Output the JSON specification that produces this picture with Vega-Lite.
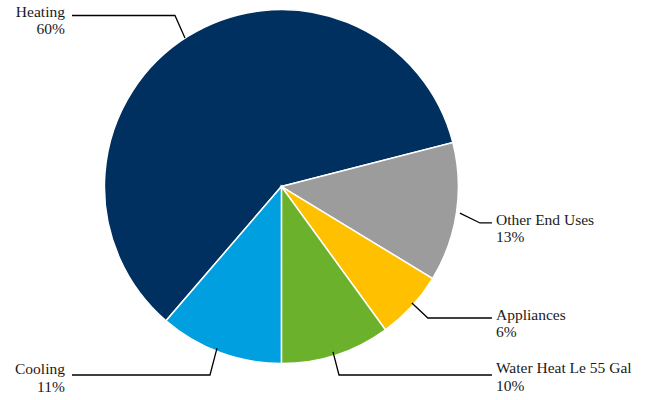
{
  "$schema": "https://vega.github.io/schema/vega-lite/v6.json",
  "width": 647,
  "height": 400,
  "autosize": "none",
  "padding": 0,
  "background": "white",
  "config": {"view": {"stroke": null}},
  "datasets": {
    "slices": [
      {"cat": "Heating", "value": 59.7, "ord": 1},
      {"cat": "Other End Uses", "value": 12.7, "ord": 2},
      {"cat": "Appliances", "value": 6.3, "ord": 3},
      {"cat": "Water Heat Le 55 Gal", "value": 10.0, "ord": 4},
      {"cat": "Cooling", "value": 11.3, "ord": 5}
    ],
    "leaders": [
      {"cat": "Heating", "pt": 1, "lx": -0.548, "ly": 0.844},
      {"cat": "Heating", "pt": 2, "lx": -0.605, "ly": 0.972},
      {"cat": "Heating", "pt": 3, "lx": -1.19, "ly": 0.972},
      {"cat": "Other End Uses", "pt": 1, "lx": 1.014, "ly": -0.151},
      {"cat": "Other End Uses", "pt": 2, "lx": 1.128, "ly": -0.207},
      {"cat": "Other End Uses", "pt": 3, "lx": 1.196, "ly": -0.207},
      {"cat": "Appliances", "pt": 1, "lx": 0.741, "ly": -0.662},
      {"cat": "Appliances", "pt": 2, "lx": 0.832, "ly": -0.747},
      {"cat": "Appliances", "pt": 3, "lx": 1.196, "ly": -0.747},
      {"cat": "Water Heat Le 55 Gal", "pt": 1, "lx": 0.293, "ly": -0.94},
      {"cat": "Water Heat Le 55 Gal", "pt": 2, "lx": 0.327, "ly": -1.071},
      {"cat": "Water Heat Le 55 Gal", "pt": 3, "lx": 1.196, "ly": -1.071},
      {"cat": "Cooling", "pt": 1, "lx": -0.366, "ly": -0.918},
      {"cat": "Cooling", "pt": 2, "lx": -0.406, "ly": -1.071},
      {"cat": "Cooling", "pt": 3, "lx": -1.19, "ly": -1.071}
    ],
    "labels": [
      {"cat": "Heating", "pct": "60%", "side": "left", "tx": -1.23, "ty": 0.966},
      {"cat": "Other End Uses", "pct": "13%", "side": "right", "tx": 1.219, "ty": -0.216},
      {"cat": "Appliances", "pct": "6%", "side": "right", "tx": 1.219, "ty": -0.756},
      {"cat": "Water Heat Le 55 Gal", "pct": "10%", "side": "right", "tx": 1.219, "ty": -1.062},
      {"cat": "Cooling", "pct": "11%", "side": "left", "tx": -1.23, "ty": -1.068}
    ]
  },
  "layer": [
    {
      "data": {"name": "slices"},
      "mark": {"type": "arc", "outerRadius": 177, "stroke": "white", "strokeWidth": 1.5},
      "encoding": {
        "theta": {"field": "value", "type": "quantitative", "stack": true, "scale": {"range": [3.852, 10.135]}},
        "color": {
          "field": "cat", "type": "nominal", "legend": null,
          "scale": {
            "domain": ["Heating", "Other End Uses", "Appliances", "Water Heat Le 55 Gal", "Cooling"],
            "range": ["#00305F", "#9C9C9C", "#FFC000", "#6CB12B", "#00A0E0"]
          }
        },
        "order": {"field": "ord", "type": "quantitative"},
        "x": {"datum": 0, "type": "quantitative", "scale": {"domain": [-1.599, 2.077], "nice": false, "zero": false}, "axis": null},
        "y": {"datum": 0, "type": "quantitative", "scale": {"domain": [-1.213, 1.06], "nice": false, "zero": false}, "axis": null}
      }
    },
    {
      "data": {"name": "leaders"},
      "mark": {"type": "line", "color": "#000000", "strokeWidth": 1.3},
      "encoding": {
        "x": {"field": "lx", "type": "quantitative", "scale": {"domain": [-1.599, 2.077], "nice": false, "zero": false}, "axis": null},
        "y": {"field": "ly", "type": "quantitative", "scale": {"domain": [-1.213, 1.06], "nice": false, "zero": false}, "axis": null},
        "detail": {"field": "cat", "type": "nominal"},
        "order": {"field": "pt", "type": "quantitative"}
      }
    },
    {
      "data": {"name": "labels"},
      "transform": [{"filter": "datum.side === 'left'"}],
      "mark": {"type": "text", "align": "right", "baseline": "alphabetic", "font": "Liberation Serif", "fontSize": 15.5, "color": "#1a1a1a"},
      "encoding": {
        "x": {"field": "tx", "type": "quantitative", "scale": {"domain": [-1.599, 2.077], "nice": false, "zero": false}, "axis": null},
        "y": {"field": "ty", "type": "quantitative", "scale": {"domain": [-1.213, 1.06], "nice": false, "zero": false}, "axis": null},
        "text": {"field": "cat"}
      }
    },
    {
      "data": {"name": "labels"},
      "transform": [{"filter": "datum.side === 'left'"}],
      "mark": {"type": "text", "align": "right", "baseline": "alphabetic", "dy": 17.5, "font": "Liberation Serif", "fontSize": 15.5, "color": "#1a1a1a"},
      "encoding": {
        "x": {"field": "tx", "type": "quantitative", "scale": {"domain": [-1.599, 2.077], "nice": false, "zero": false}, "axis": null},
        "y": {"field": "ty", "type": "quantitative", "scale": {"domain": [-1.213, 1.06], "nice": false, "zero": false}, "axis": null},
        "text": {"field": "pct"}
      }
    },
    {
      "data": {"name": "labels"},
      "transform": [{"filter": "datum.side === 'right'"}],
      "mark": {"type": "text", "align": "left", "baseline": "alphabetic", "font": "Liberation Serif", "fontSize": 15.5, "color": "#1a1a1a"},
      "encoding": {
        "x": {"field": "tx", "type": "quantitative", "scale": {"domain": [-1.599, 2.077], "nice": false, "zero": false}, "axis": null},
        "y": {"field": "ty", "type": "quantitative", "scale": {"domain": [-1.213, 1.06], "nice": false, "zero": false}, "axis": null},
        "text": {"field": "cat"}
      }
    },
    {
      "data": {"name": "labels"},
      "transform": [{"filter": "datum.side === 'right'"}],
      "mark": {"type": "text", "align": "left", "baseline": "alphabetic", "dy": 17.5, "font": "Liberation Serif", "fontSize": 15.5, "color": "#1a1a1a"},
      "encoding": {
        "x": {"field": "tx", "type": "quantitative", "scale": {"domain": [-1.599, 2.077], "nice": false, "zero": false}, "axis": null},
        "y": {"field": "ty", "type": "quantitative", "scale": {"domain": [-1.213, 1.06], "nice": false, "zero": false}, "axis": null},
        "text": {"field": "pct"}
      }
    }
  ]
}
